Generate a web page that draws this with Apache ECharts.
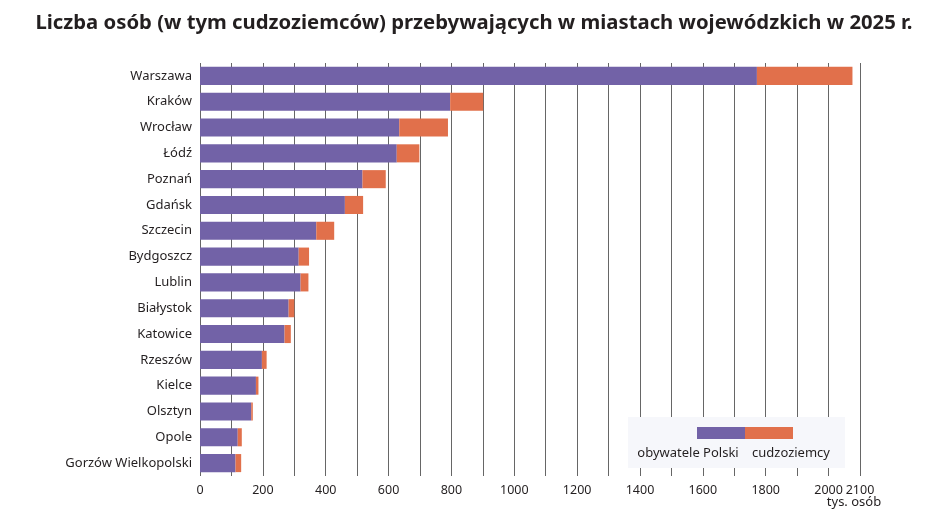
<!DOCTYPE html>
<html>
<head>
<meta charset="utf-8">
<script src="https://cdn.jsdelivr.net/npm/echarts@6/dist/echarts.min.js"></script>
<style>
  html, body { margin: 0; padding: 0; background: #fff; }
  #chart { width: 948px; height: 530px; }
</style>
</head>
<body>
<div id="chart"></div>
<script>
// miasta wojewódzkie (od góry)
var cities = ['Warszawa', 'Kraków', 'Wrocław', 'Łódź', 'Poznań', 'Gdańsk', 'Szczecin', 'Bydgoszcz',
  'Lublin', 'Białystok', 'Katowice', 'Rzeszów', 'Kielce', 'Olsztyn', 'Opole', 'Gorzów Wielkopolski'];
// obywatele Polski, tys. osób
var polish = [1772, 796, 634, 626, 517, 461, 370, 314, 320, 282, 269, 197, 178, 163, 120, 113];
// cudzoziemcy, tys. osób
var foreigners = [304, 105, 155, 72, 74, 58, 57, 33, 25, 18, 20, 15, 8, 5, 13, 18];
var xLabels = [0, 200, 400, 600, 800, 1000, 1200, 1400, 1600, 1800, 2000, 2100];

var colPolish = '#7262a7';
var colForeign = '#e1704b';
var textCol = '#231f20';
var font = 'Noto Sans';

var chart = echarts.init(document.getElementById('chart'));

var option = {
  animation: false,
  title: {
    text: 'Liczba osób (w tym cudzoziemców) przebywających w miastach wojewódzkich w 2025 r.',
    left: 'center',
    top: 8,
    textStyle: { fontFamily: font, fontWeight: 'bold', fontSize: 20.3, color: textCol }
  },
  grid: { left: 200, right: 88, top: 63, bottom: 54 },
  xAxis: {
    type: 'value',
    min: 0,
    max: 2100,
    interval: 100,
    axisLine: { show: false },
    axisTick: { show: false },
    splitLine: { show: true, lineStyle: { color: '#666666', width: 1 } },
    axisLabel: {
      margin: 8,
      fontFamily: font,
      fontSize: 12.5,
      color: textCol,
      showMaxLabel: true,
      hideOverlap: false,
      interval: 0,
      formatter: function (v) {
        return xLabels.indexOf(v) < 0 ? '' : String(v);
      }
    }
  },
  yAxis: {
    type: 'category',
    inverse: true,
    data: cities,
    axisLine: { show: false },
    axisTick: { show: false },
    axisLabel: { margin: 8, fontFamily: font, fontSize: 13, color: textCol }
  },
  series: [
    {
      name: 'obywatele Polski',
      type: 'bar',
      stack: 'razem',
      data: polish,
      barWidth: '70%',
      itemStyle: { color: colPolish }
    },
    {
      name: 'cudzoziemcy',
      type: 'bar',
      stack: 'razem',
      data: foreigners,
      barWidth: '70%',
      itemStyle: { color: colForeign }
    }
  ],
  // jednostka pod osią i legenda jak w oryginale: pasek kolorów z podpisami pod spodem
  graphic: [
    { type: 'text', x: 854, y: 502, style: { text: 'tys. osób', fill: textCol, font: '13px "Noto Sans"', align: 'center', verticalAlign: 'middle' } },
    { type: 'rect', shape: { x: 628, y: 417, width: 217, height: 51 }, style: { fill: '#f6f7fb' }, z: 10 },
    { type: 'rect', shape: { x: 697, y: 427, width: 48, height: 12 }, style: { fill: colPolish }, z: 11 },
    { type: 'rect', shape: { x: 745, y: 427, width: 48, height: 12 }, style: { fill: colForeign }, z: 11 },
    { type: 'text', x: 688, y: 453, style: { text: 'obywatele Polski', fill: textCol, font: '13px "Noto Sans"', align: 'center', verticalAlign: 'middle' }, z: 11 },
    { type: 'text', x: 791, y: 453, style: { text: 'cudzoziemcy', fill: textCol, font: '13px "Noto Sans"', align: 'center', verticalAlign: 'middle' }, z: 11 }
  ]
};

chart.setOption(option);
</script>
</body>
</html>
